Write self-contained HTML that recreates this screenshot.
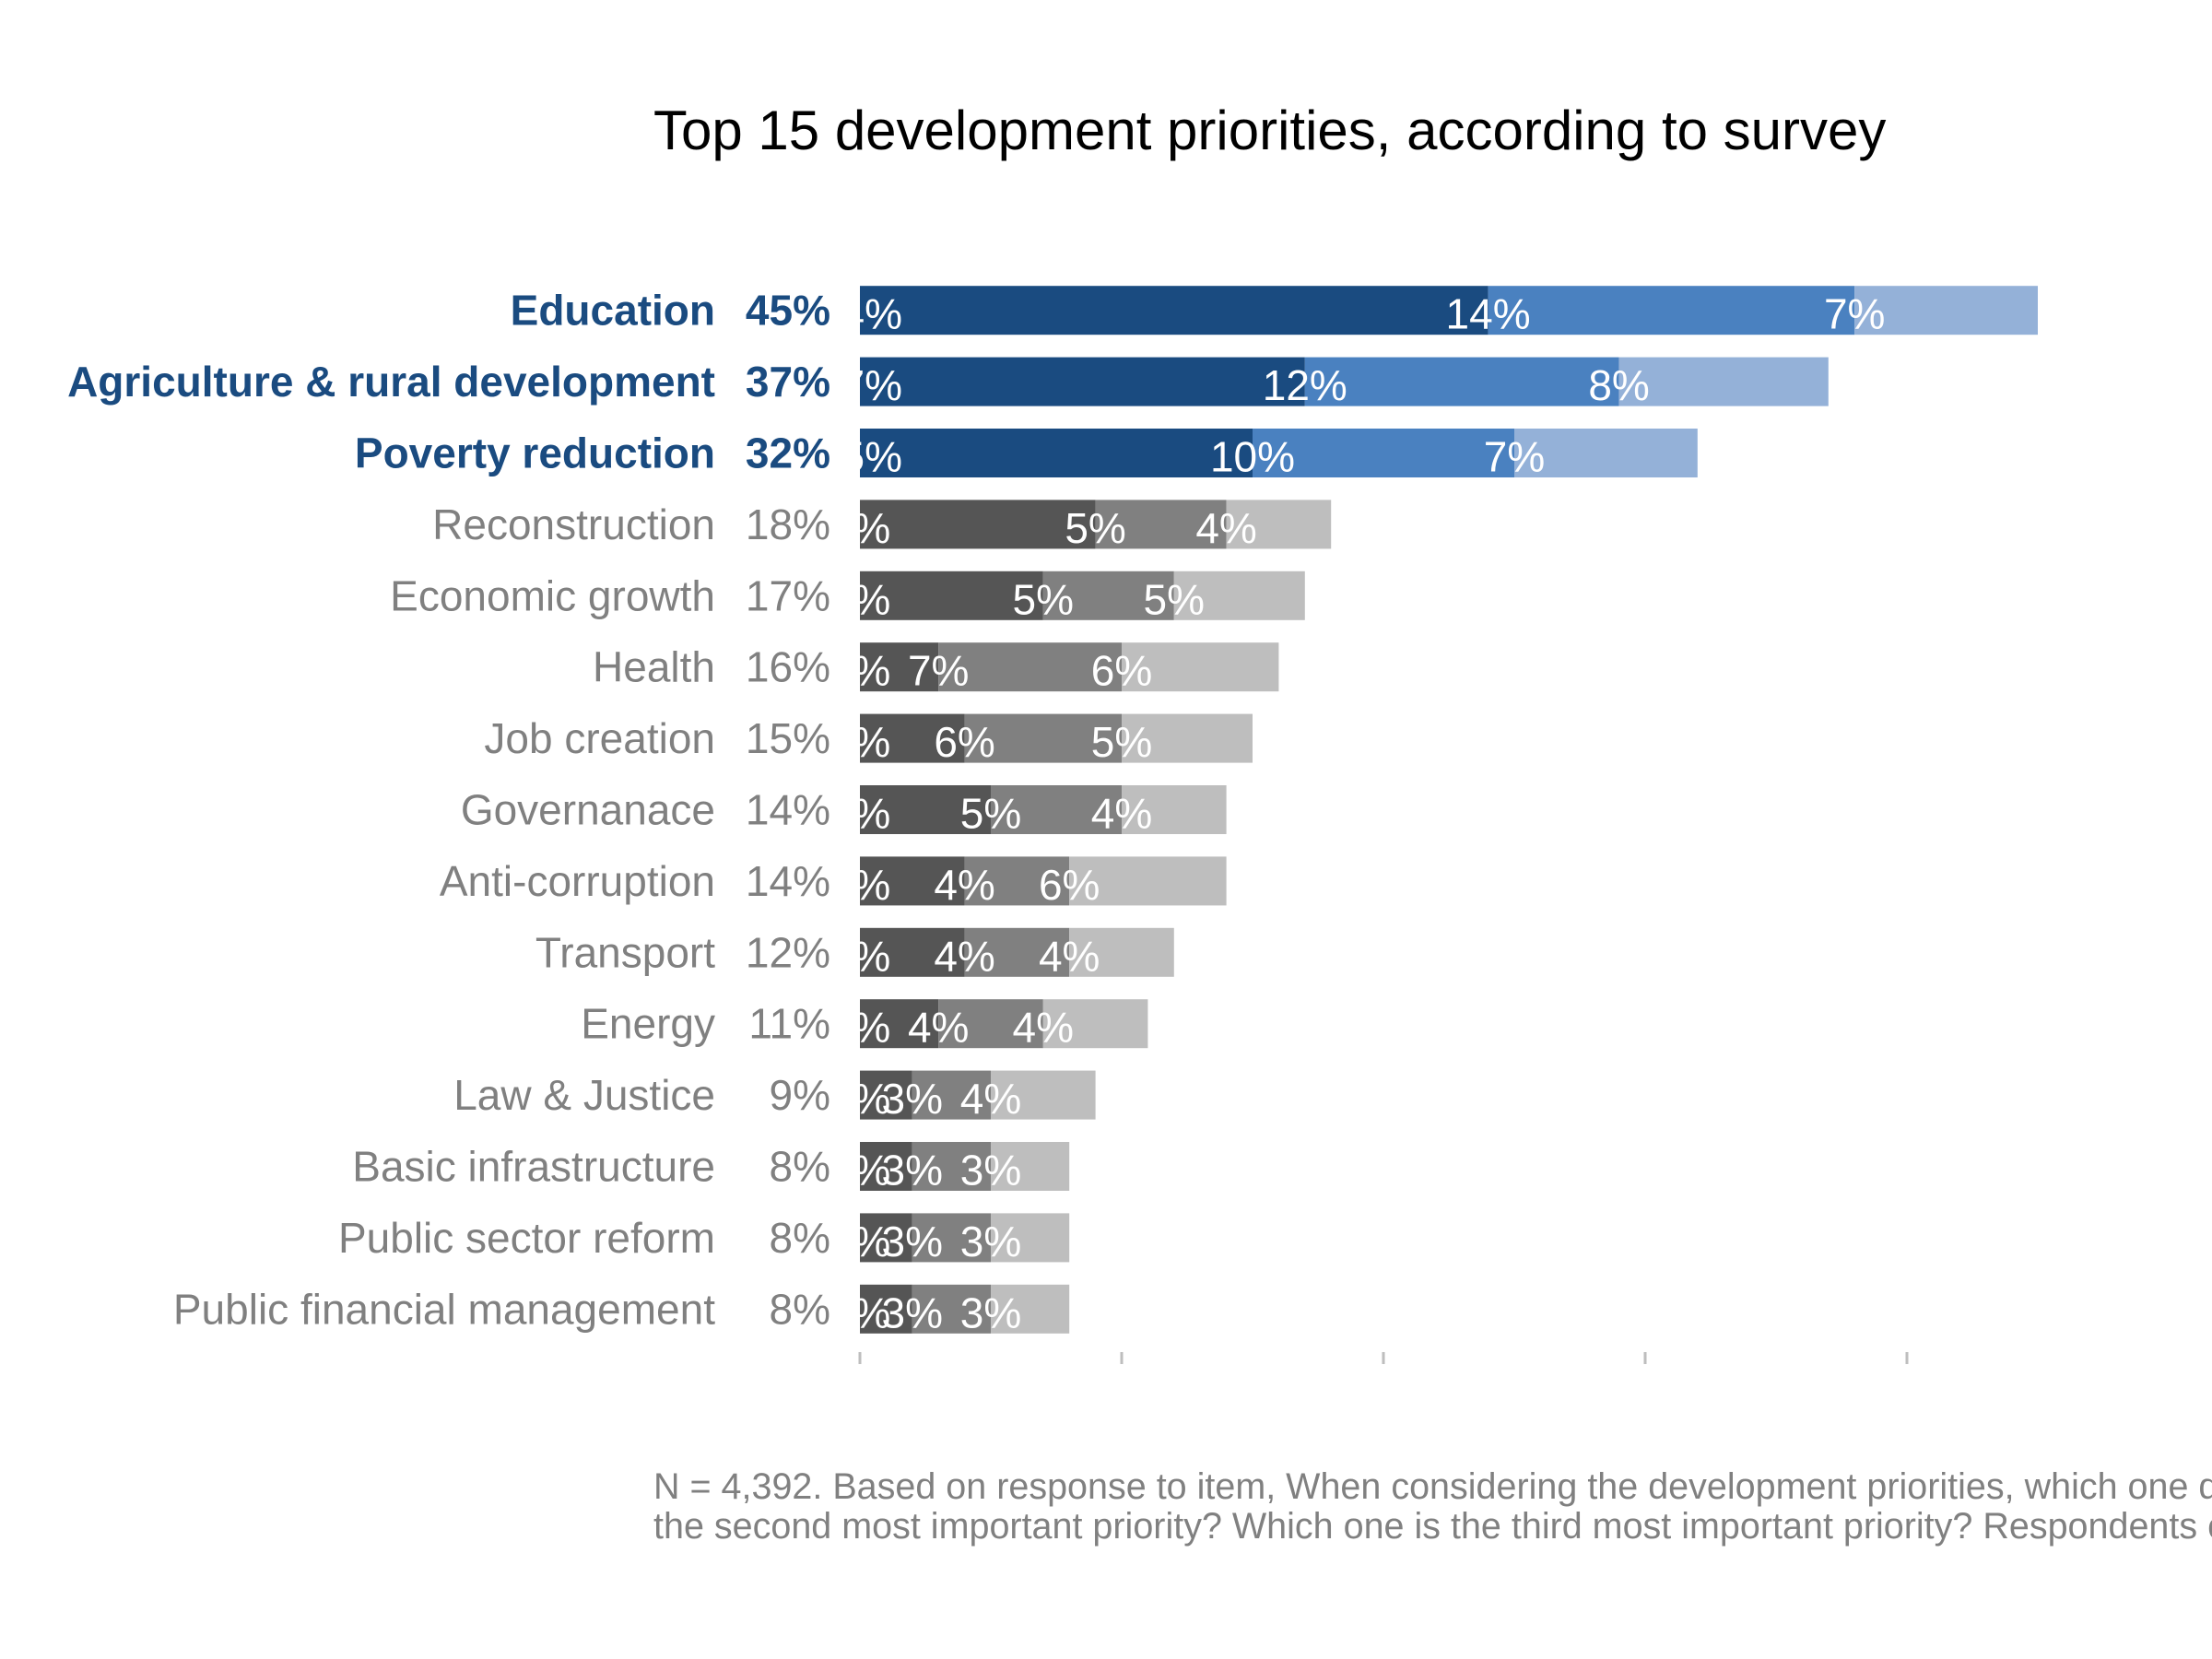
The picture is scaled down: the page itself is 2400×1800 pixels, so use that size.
<!DOCTYPE html>
<html><head><meta charset="utf-8"><style>
html,body{margin:0;padding:0;background:#fff;}
body{width:2400px;height:1800px;overflow:hidden;position:relative;font-family:"Liberation Sans",Arial,sans-serif;}
#foot{position:absolute;left:709px;top:1592px;width:1691px;overflow:hidden;font-size:39.5px;color:#808080;line-height:43px;white-space:nowrap;}
</style></head><body>
<svg id="chart" width="2400" height="1800" style="position:absolute;left:0;top:0" font-family="Liberation Sans, Arial, sans-serif">
<defs><clipPath id="panel"><rect x="933" y="0" width="1467" height="1800"/></clipPath></defs>
<text x="709" y="162" font-size="60" fill="#000">Top 15 development priorities, according to survey</text>
<g id="rows"></g>
<g id="ticks"></g>
</svg>
<div id="foot">N = 4,392. Based on response to item, When considering the development priorities, which one do you consider the most important priority? Which one is<br>the second most important priority? Which one is the third most important priority? Respondents could choose up to three priorities.</div>
<script>
const categories = ["Education","Agriculture & rural development","Poverty reduction","Reconstruction","Economic growth","Health","Job creation","Governanace","Anti-corruption","Transport","Energy","Law & Justice","Basic infrastructure","Public sector reform","Public financial management"];
const firstPriority = [24,17,15,9,7,3,4,5,4,4,3,2,2,2,2];
const secondPriority = [14,12,10,5,5,7,6,5,4,4,4,3,3,3,3];
const thirdPriority = [7,8,7,4,5,6,5,4,6,4,4,4,3,3,3];
const highlighted = [true,true,true,false,false,false,false,false,false,false,false,false,false,false,false];
const tickValues = [0,10,20,30,40];

const X0 = 933, PX = 28.4, ROW0 = 336.7, ROWSTEP = 77.4, BARH = 53;
const xScale = v => X0 + v * PX;
const yScale = i => ROW0 + i * ROWSTEP;
const NS = "http://www.w3.org/2000/svg";
const rows = document.getElementById("rows");
const blue = ["#1a4b80","#4a81c0","#94b1d8"], grey = ["#555555","#808080","#bebebe"];
const segNames = ["first","second","third"];

function mk(tag, attrs, parent){
  const e = document.createElementNS(NS, tag);
  for (const k in attrs) e.setAttribute(k, attrs[k]);
  parent.appendChild(e);
  return e;
}

categories.forEach((cat, i) => {
  const y = yScale(i);
  const vals = [firstPriority[i], secondPriority[i], thirdPriority[i]];
  const total = vals[0] + vals[1] + vals[2];
  const hl = highlighted[i];
  const col = hl ? "#1a4b80" : "#808080";
  const g = mk("g", {}, rows);
  
  
  const lab = mk("text", {x: 776, y: y + 16, "text-anchor": "end", "font-size": 46, fill: col, "font-weight": hl ? "bold" : "normal"}, g);
  lab.textContent = cat;
  
  
  const pl = mk("text", {x: 901, y: y + 16, "text-anchor": "end", "font-size": 46, fill: col, "font-weight": hl ? "bold" : "normal"}, g);
  pl.textContent = total + "%";
  
  
  let cum = 0;
  const pal = hl ? blue : grey;
  vals.forEach((v, s) => {
    const r = mk("rect", {x: xScale(cum), y: y - BARH/2, width: v * PX, height: BARH, fill: pal[s]}, g);
    
    
    cum += v;
  });
  cum = 0;
  vals.forEach((v, s) => {
    const t = mk("text", {x: xScale(cum), y: y + 20, "text-anchor": "middle", "font-size": 46, fill: "#fff", "clip-path": "url(#panel)"}, g);
    t.textContent = v + "%";
    
    
    cum += v;
  });
});

const ticks = document.getElementById("ticks");
tickValues.forEach(v => {
  const l = mk("rect", {x: xScale(v) - 1.5, y: 1467, width: 3, height: 13, fill: "#bebebe"}, ticks);
  
  
});
</script>
</body></html>
